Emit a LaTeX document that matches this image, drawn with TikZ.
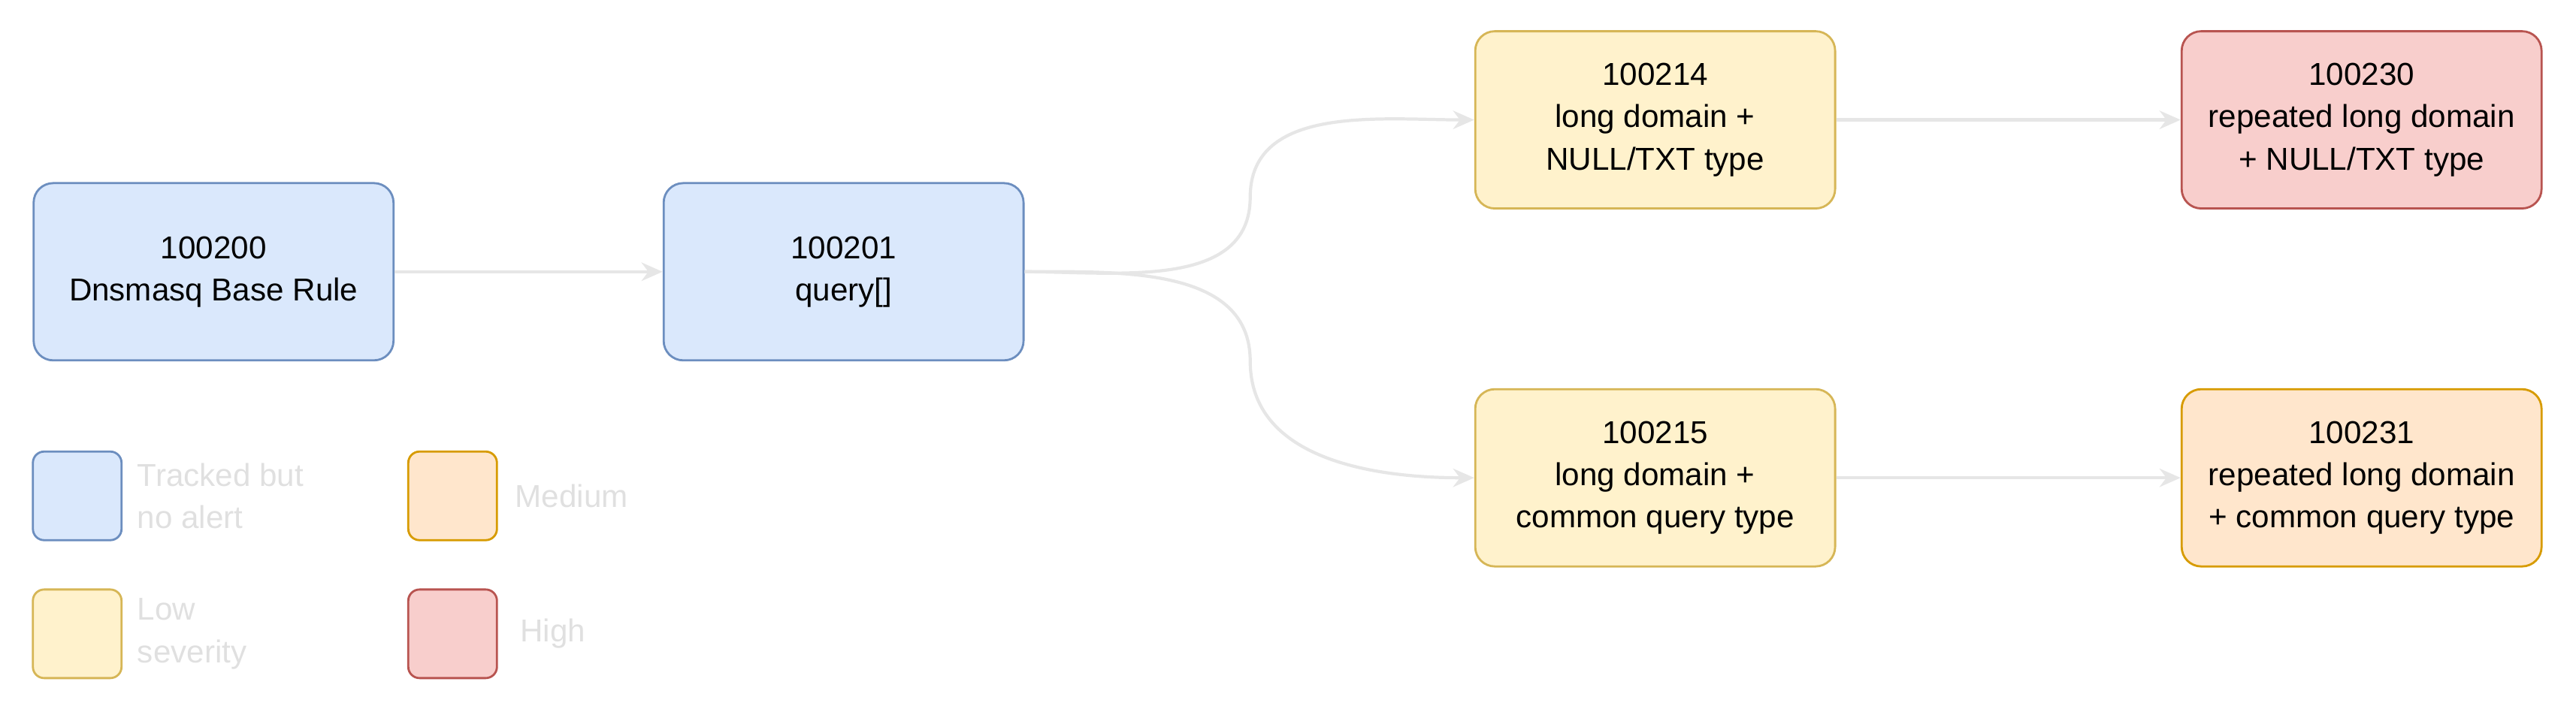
\documentclass[tikz,border=0pt]{standalone}
\usepackage{fontspec}
\setmainfont{Liberation Sans}
\usetikzlibrary{arrows.meta}
\definecolor{blueF}{HTML}{DAE8FC}\definecolor{blueD}{HTML}{6C8EBF}
\definecolor{yelF}{HTML}{FFF2CC}\definecolor{yelD}{HTML}{D6B656}
\definecolor{orF}{HTML}{FFE6CC}\definecolor{orD}{HTML}{D79B00}
\definecolor{redF}{HTML}{F8CECC}\definecolor{redD}{HTML}{B85450}
\definecolor{edgeC}{HTML}{E6E6E6}
\definecolor{legC}{HTML}{E0E0E0}
\tikzset{
  rule/.style={draw, line width=0.8pt, rounded corners=0.26cm, minimum width=4.79cm,
    minimum height=2.36cm, align=center, font=\fontsize{12}{16}\selectfont},
  blueR/.style={rule, fill=blueF, draw=blueD},
  yelR/.style={rule, fill=yelF, draw=yelD},
  orR/.style={rule, fill=orF, draw=orD},
  redR/.style={rule, fill=redF, draw=redD},
  key/.style={draw, line width=0.8pt, rounded corners=0.15cm, minimum size=1.18cm},
  keytext/.style={text=legC, align=left, anchor=west, font=\fontsize{12}{16}\selectfont},
  link/.style={draw=edgeC, line width=1.2pt, -{Stealth[length=8pt,width=7pt]}}
}
\begin{document}
\begin{tikzpicture}[x=0.02186cm,y=-0.02186cm]
  \useasboundingbox (0,0) rectangle (1568,435.4);

  % rules
  \node[blueR] (base) at (130,165.5) {100200\\Dnsmasq Base Rule};
  \node[blueR] (query) at (513.5,165.5) {100201\\query[]};
  \node[yelR] (nulltxt) at (1007.5,73) {100214\\long domain +\\NULL/TXT type};
  \node[redR] (rnulltxt) at (1437.5,73) {100230\\repeated long domain\\+ NULL/TXT type};
  \node[yelR] (common) at (1007.5,291) {100215\\long domain +\\common query type};
  \node[orR] (rcommon) at (1437.5,291) {100231\\repeated long domain\\+ common query type};

  % links
  \coordinate (bendA) at (761,120);
  \coordinate (bendB) at (761,220);
  \draw[link] (base) -- (query);
  \draw[link] (query.east) to[out=0,in=-90] (bendA) to[out=90,in=180] (nulltxt.west);
  \draw[link] (query.east) to[out=0,in=90] (bendB) to[out=-90,in=180] (common.west);
  \draw[link] (nulltxt) -- (rnulltxt);
  \draw[link] (common) -- (rcommon);

  % legend
  \node[key, fill=blueF, draw=blueD] (kblue) at (47,302) {};
  \node[keytext] at (78,302) {Tracked but\\no alert};
  \node[key, fill=orF, draw=orD] (kor) at (275.5,302) {};
  \node[keytext] at (308,302) {Medium};
  \node[key, fill=yelF, draw=yelD] (kyel) at (47,386) {};
  \node[keytext] at (78,386) {Low\\severity};
  \node[key, fill=redF, draw=redD] (kred) at (275.5,386) {};
  \node[keytext] at (311,386) {High};
\end{tikzpicture}
\end{document}
